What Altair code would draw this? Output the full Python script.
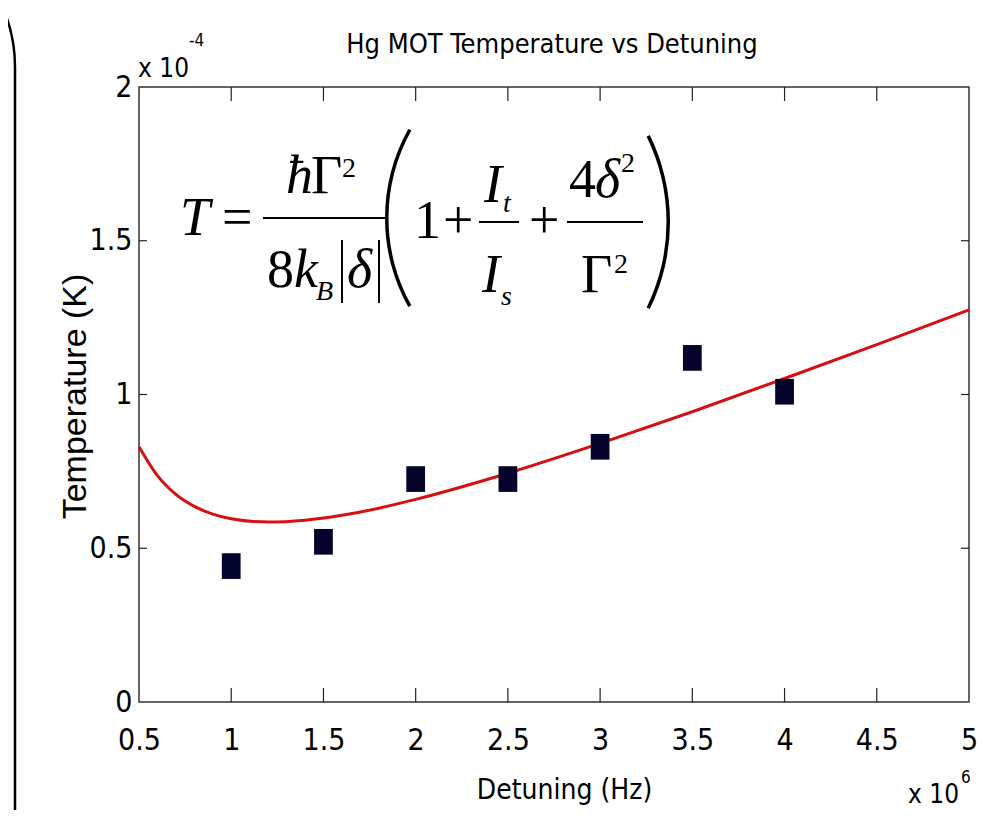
import altair as alt
import pandas as pd

# ---------------- data ----------------
detuning_meas = [1.0, 1.5, 2.0, 2.5, 3.0, 3.5, 4.0]            # x 10^6 Hz
temp_meas = [0.442, 0.521, 0.725, 0.725, 0.830, 1.119, 1.009]  # x 10^-4 K

fit_detuning = [0.5, 0.6, 0.7, 0.8, 0.9, 1.0, 1.2, 1.4, 1.6, 1.8, 2.0,
                2.5, 3.0, 3.5, 4.0, 4.5, 5.0]
fit_temp = [0.830, 0.736, 0.675, 0.636, 0.611, 0.596, 0.585, 0.591, 0.607,
            0.630, 0.659, 0.744, 0.841, 0.944, 1.052, 1.162, 1.275]

x_tick_labels = [0.5, 1, 1.5, 2, 2.5, 3, 3.5, 4, 4.5, 5]
y_tick_labels = [0, 0.5, 1, 1.5, 2]
x_inner_ticks = [1, 1.5, 2, 2.5, 3, 3.5, 4, 4.5]
y_inner_ticks = [0.5, 1, 1.5]

title_text = "Hg MOT Temperature vs Detuning"
x_title = "Detuning (Hz)"
y_title = "Temperature (K)"

# ---------------- layout / style ----------------
W, H = 830, 615
LEFT, TOP = 139, 87          # page position of the plot area
SANS = "DejaVu Sans Condensed, Liberation Sans Narrow, Liberation Sans"
SERIF = "Liberation Serif"
BIG = 54
SMALL = 28

x_scale = alt.Scale(domain=[0.5, 5], nice=False, zero=False)
y_scale = alt.Scale(domain=[0, 2], nice=False)

one = pd.DataFrame({"a": [0]})


def px(x):
    return x - LEFT


def py(y):
    return y - TOP


def txt(s, x, y, size, font=SERIF, style="normal", align="left"):
    return alt.Chart(one).mark_text(
        text=s, font=font, fontSize=size, fontStyle=style, align=align,
        baseline="alphabetic", color="black"
    ).encode(x=alt.value(px(x)), y=alt.value(py(y)))


def hbar(x1, x2, y, w=2):
    return alt.Chart(one).mark_rule(color="black", strokeWidth=w).encode(
        x=alt.value(px(x1)), x2=alt.value(px(x2)), y=alt.value(py(y)))


def vbar(x, y1, y2, w=2):
    return alt.Chart(one).mark_rule(color="black", strokeWidth=w).encode(
        x=alt.value(px(x)), y=alt.value(py(y1)), y2=alt.value(py(y2)))


def arc(cx, cy, r, t1, t2, inner=1.5, outer=2.0):
    return alt.Chart(one).mark_arc(
        innerRadius=r - inner, outerRadius=r + outer, theta=t1, theta2=t2,
        color="black"
    ).encode(x=alt.value(px(cx)), y=alt.value(py(cy)))


fit_df = pd.DataFrame({"d": fit_detuning, "t": fit_temp})
meas_df = pd.DataFrame({"d": detuning_meas, "t": temp_meas})

x_axis = alt.Axis(
    values=x_tick_labels, format="~g", title=x_title,
    labelFont=SANS, labelFontSize=30, labelColor="black", labelPadding=23,
    labelFlush=False, labelOverlap=False,
    ticks=False, tickSize=0, domain=False, grid=False,
    titleFont=SANS, titleFontSize=28, titleFontWeight="normal",
    titleColor="black", titleX=425, titleY=790 - (TOP + H),
    titleBaseline="middle", titleAlign="center",
)
y_axis = alt.Axis(
    values=y_tick_labels, format="~g", title=y_title,
    labelFont=SANS, labelFontSize=30, labelColor="black", labelPadding=7,
    labelFlush=False, labelOverlap=False,
    ticks=False, tickSize=0, domain=False, grid=False,
    titleFont="Liberation Sans", titleFontSize=34, titleFontWeight="normal",
    titleColor="black", titleAngle=270, titleX=75 - LEFT, titleY=396 - TOP,
    titleBaseline="middle", titleAlign="center",
)

X = lambda f: alt.X(f, scale=x_scale, axis=x_axis)
Y = lambda f: alt.Y(f, scale=y_scale, axis=y_axis)

fit = alt.Chart(fit_df).mark_line(
    color="#d41010", strokeWidth=3, interpolate="monotone"
).encode(x=X("d:Q"), y=Y("t:Q"))

square = "M-0.73,-1L0.73,-1L0.73,1L-0.73,1Z"
points = alt.Chart(meas_df).mark_point(
    shape=square, size=660, filled=True, fill="#03032c", opacity=1,
    strokeWidth=0
).encode(x=X("d:Q"), y=Y("t:Q"))

TICK_X, TICK_Y = 14, 8
xt = pd.DataFrame({"d": x_inner_ticks})
yt = pd.DataFrame({"t": y_inner_ticks})
tick_style = dict(color="#222222", strokeWidth=1.2)
ticks_bottom = alt.Chart(xt).mark_rule(**tick_style).encode(
    x=X("d:Q"), y=alt.value(H), y2=alt.value(H - TICK_X))
ticks_top = alt.Chart(xt).mark_rule(**tick_style).encode(
    x=X("d:Q"), y=alt.value(0), y2=alt.value(TICK_X))
ticks_left = alt.Chart(yt).mark_rule(**tick_style).encode(
    y=Y("t:Q"), x=alt.value(0), x2=alt.value(TICK_Y))
ticks_right = alt.Chart(yt).mark_rule(**tick_style).encode(
    y=Y("t:Q"), x=alt.value(W), x2=alt.value(W - TICK_Y))

# title and exponent labels
text_layers = [
    txt(title_text, 552, 53, 27, font=SANS, align="center"),
    txt("x 10", 138, 77, 26, font=SANS),
    txt("-4", 189, 46, 17, font=SANS),
    txt("x 10", 908, 803, 26, font=SANS),
    txt("6", 961, 783, 17, font=SANS),
]

# equation  T = hbar Gamma^2 / (8 k_B |delta|) (1 + I_t/I_s + 4 delta^2/Gamma^2)
eq_layers = [
    txt("T", 180, 235, BIG, style="italic"),
    txt("=", 222, 235, BIG),
    txt("\u0127", 286, 193, BIG, style="italic"),
    txt("\u0393", 311, 193, BIG),
    txt("2", 342, 177, SMALL),
    hbar(263, 385, 218),
    txt("8", 267, 287, BIG),
    txt("k", 294, 287, BIG, style="italic"),
    txt("B", 316, 300, SMALL, style="italic"),
    vbar(342, 240, 303),
    vbar(379, 240, 303),
    txt("\u03b4", 347, 287, BIG, style="italic"),
    arc(567, 218, 180, 4.201, 5.224),
    txt("1", 414, 238, BIG),
    txt("+", 443, 238, BIG),
    hbar(479, 519, 222),
    txt("I", 484, 202, BIG, style="italic"),
    txt("t", 503, 212, SMALL, style="italic"),
    txt("I", 482, 292, BIG, style="italic"),
    txt("s", 501, 305, SMALL, style="italic"),
    txt("+", 529, 238, BIG),
    hbar(567, 643, 222),
    txt("4", 569, 197, BIG),
    txt("\u03b4", 595, 197, BIG, style="italic"),
    txt("2", 621, 172, SMALL),
    txt("\u0393", 581, 292, BIG),
    txt("2", 614, 273, SMALL),
    arc(473, 222, 195, 1.114, 2.028),
]

# big bracket on the far left of the picture
bracket = [
    vbar(15, 67, 812, w=2.5),
    arc(-135, 67, 150, 1.05, 1.5708, inner=1.25, outer=1.25),
]

chart = alt.layer(
    fit, points, ticks_bottom, ticks_top, ticks_left, ticks_right,
    *text_layers, *eq_layers, *bracket
).properties(
    width=W, height=H,
    padding={"left": LEFT - 8, "top": TOP - 8, "right": 20, "bottom": 108},
    autosize=alt.AutoSizeParams(type="none"),
).configure_view(stroke="#333333", strokeWidth=1.5)

chart.save("out.html", embed_options={"renderer": "svg", "actions": False})
